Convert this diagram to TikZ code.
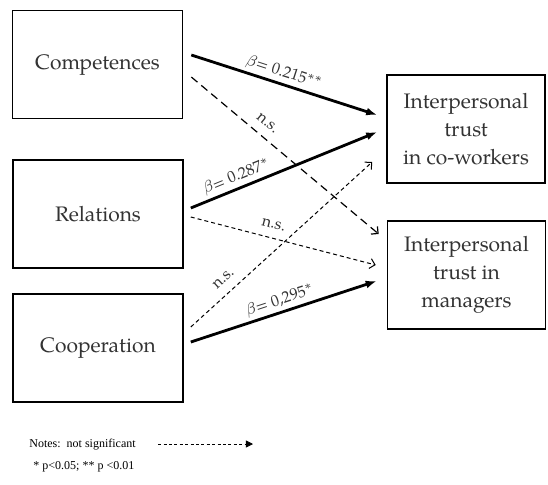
\documentclass[tikz,border=0pt]{standalone}
\usepackage{fontspec}
\setmainfont{TeX Gyre Pagella}
\newfontfamily\notesfont{Liberation Serif}
\usetikzlibrary{arrows.meta,calc}

\begin{document}
\begin{tikzpicture}[x=0.5pt,y=-0.5pt,
  factor/.style={draw,line width=0.8pt,minimum width=85pt,minimum height=54pt,
    font=\fontsize{10.5}{14}\selectfont,text=black!80},
  outcome/.style={factor,minimum width=79pt,align=center},
  sig/.style={line width=1.4pt,-{Latex[length=5.5pt,width=4pt]}},
  ns/.style={line width=0.5pt,dash pattern=on 2pt off 1.5pt,
    -{Straight Barb[length=2.5pt,width=5pt]}},
  coef/.style={sloped,above,font=\fontsize{8}{9}\selectfont,text=black!80,inner sep=1.5pt},
  nslabel/.style={coef,above=3pt},
  notes/.style={font=\notesfont\fontsize{6}{7}\selectfont,inner sep=0pt}]

  \useasboundingbox (0,0) rectangle (548,484);

  % predictors
  \node[factor] (comp) at (97.5,64.5) {Competences};
  \node[factor] (rel) at (98,214) {Relations};
  \node[factor] (coop) at (98,348) {Cooperation};

  % outcomes
  \node[outcome] (cowork) at (466,129) {Interpersonal\\trust\\in co-workers};
  \node[outcome] (mgr) at (466.5,275) {Interpersonal\\trust in\\managers};

  % significant paths
  \draw[sig] ($(comp.east)+(8,-9.5)$) -- node[coef,pos=0.48] {$\beta$= 0.215$^{**}$} ($(cowork.west)+(-9,-14)$);
  \draw[sig] ($(rel.east)+(7,-6)$) -- node[coef,pos=0.27] {$\beta$= 0.287$^{*}$} ($(cowork.west)+(-9,3)$);
  \draw[sig] ($(coop.east)+(7,-6)$) -- node[coef,pos=0.5] {$\beta$= 0,295$^{*}$} ($(mgr.west)+(-10,6)$);

  % not significant
  \draw[ns,line width=0.6pt,dash pattern=on 4pt off 2.5pt] ($(comp.east)+(8,12.5)$) -- node[nslabel,pos=0.36] {n.s.} ($(mgr.west)+(-8,-41)$);
  \draw[ns] ($(rel.east)+(7,3)$) -- node[nslabel,pos=0.43] {n.s.} ($(mgr.west)+(-11,-10)$);
  \draw[ns] ($(coop.east)+(7,-21)$) -- node[nslabel,pos=0.23] {n.s.} ($(cowork.west)+(-14,33)$);

  % key
  \node[notes,anchor=west] (key) at (29,445) {Notes:\ \ not significant};
  \node[notes,anchor=west] (pval) at (33,467) {* p<0.05; ** p <0.01};
  \coordinate (keyend) at (253,444);
  \draw[line width=0.4pt,dash pattern=on 1.5pt off 1.2pt,-{Triangle[length=3.5pt,width=3.5pt]}]
    ($(key.east)+(22,-1)$) -- (keyend);
\end{tikzpicture}
\end{document}
